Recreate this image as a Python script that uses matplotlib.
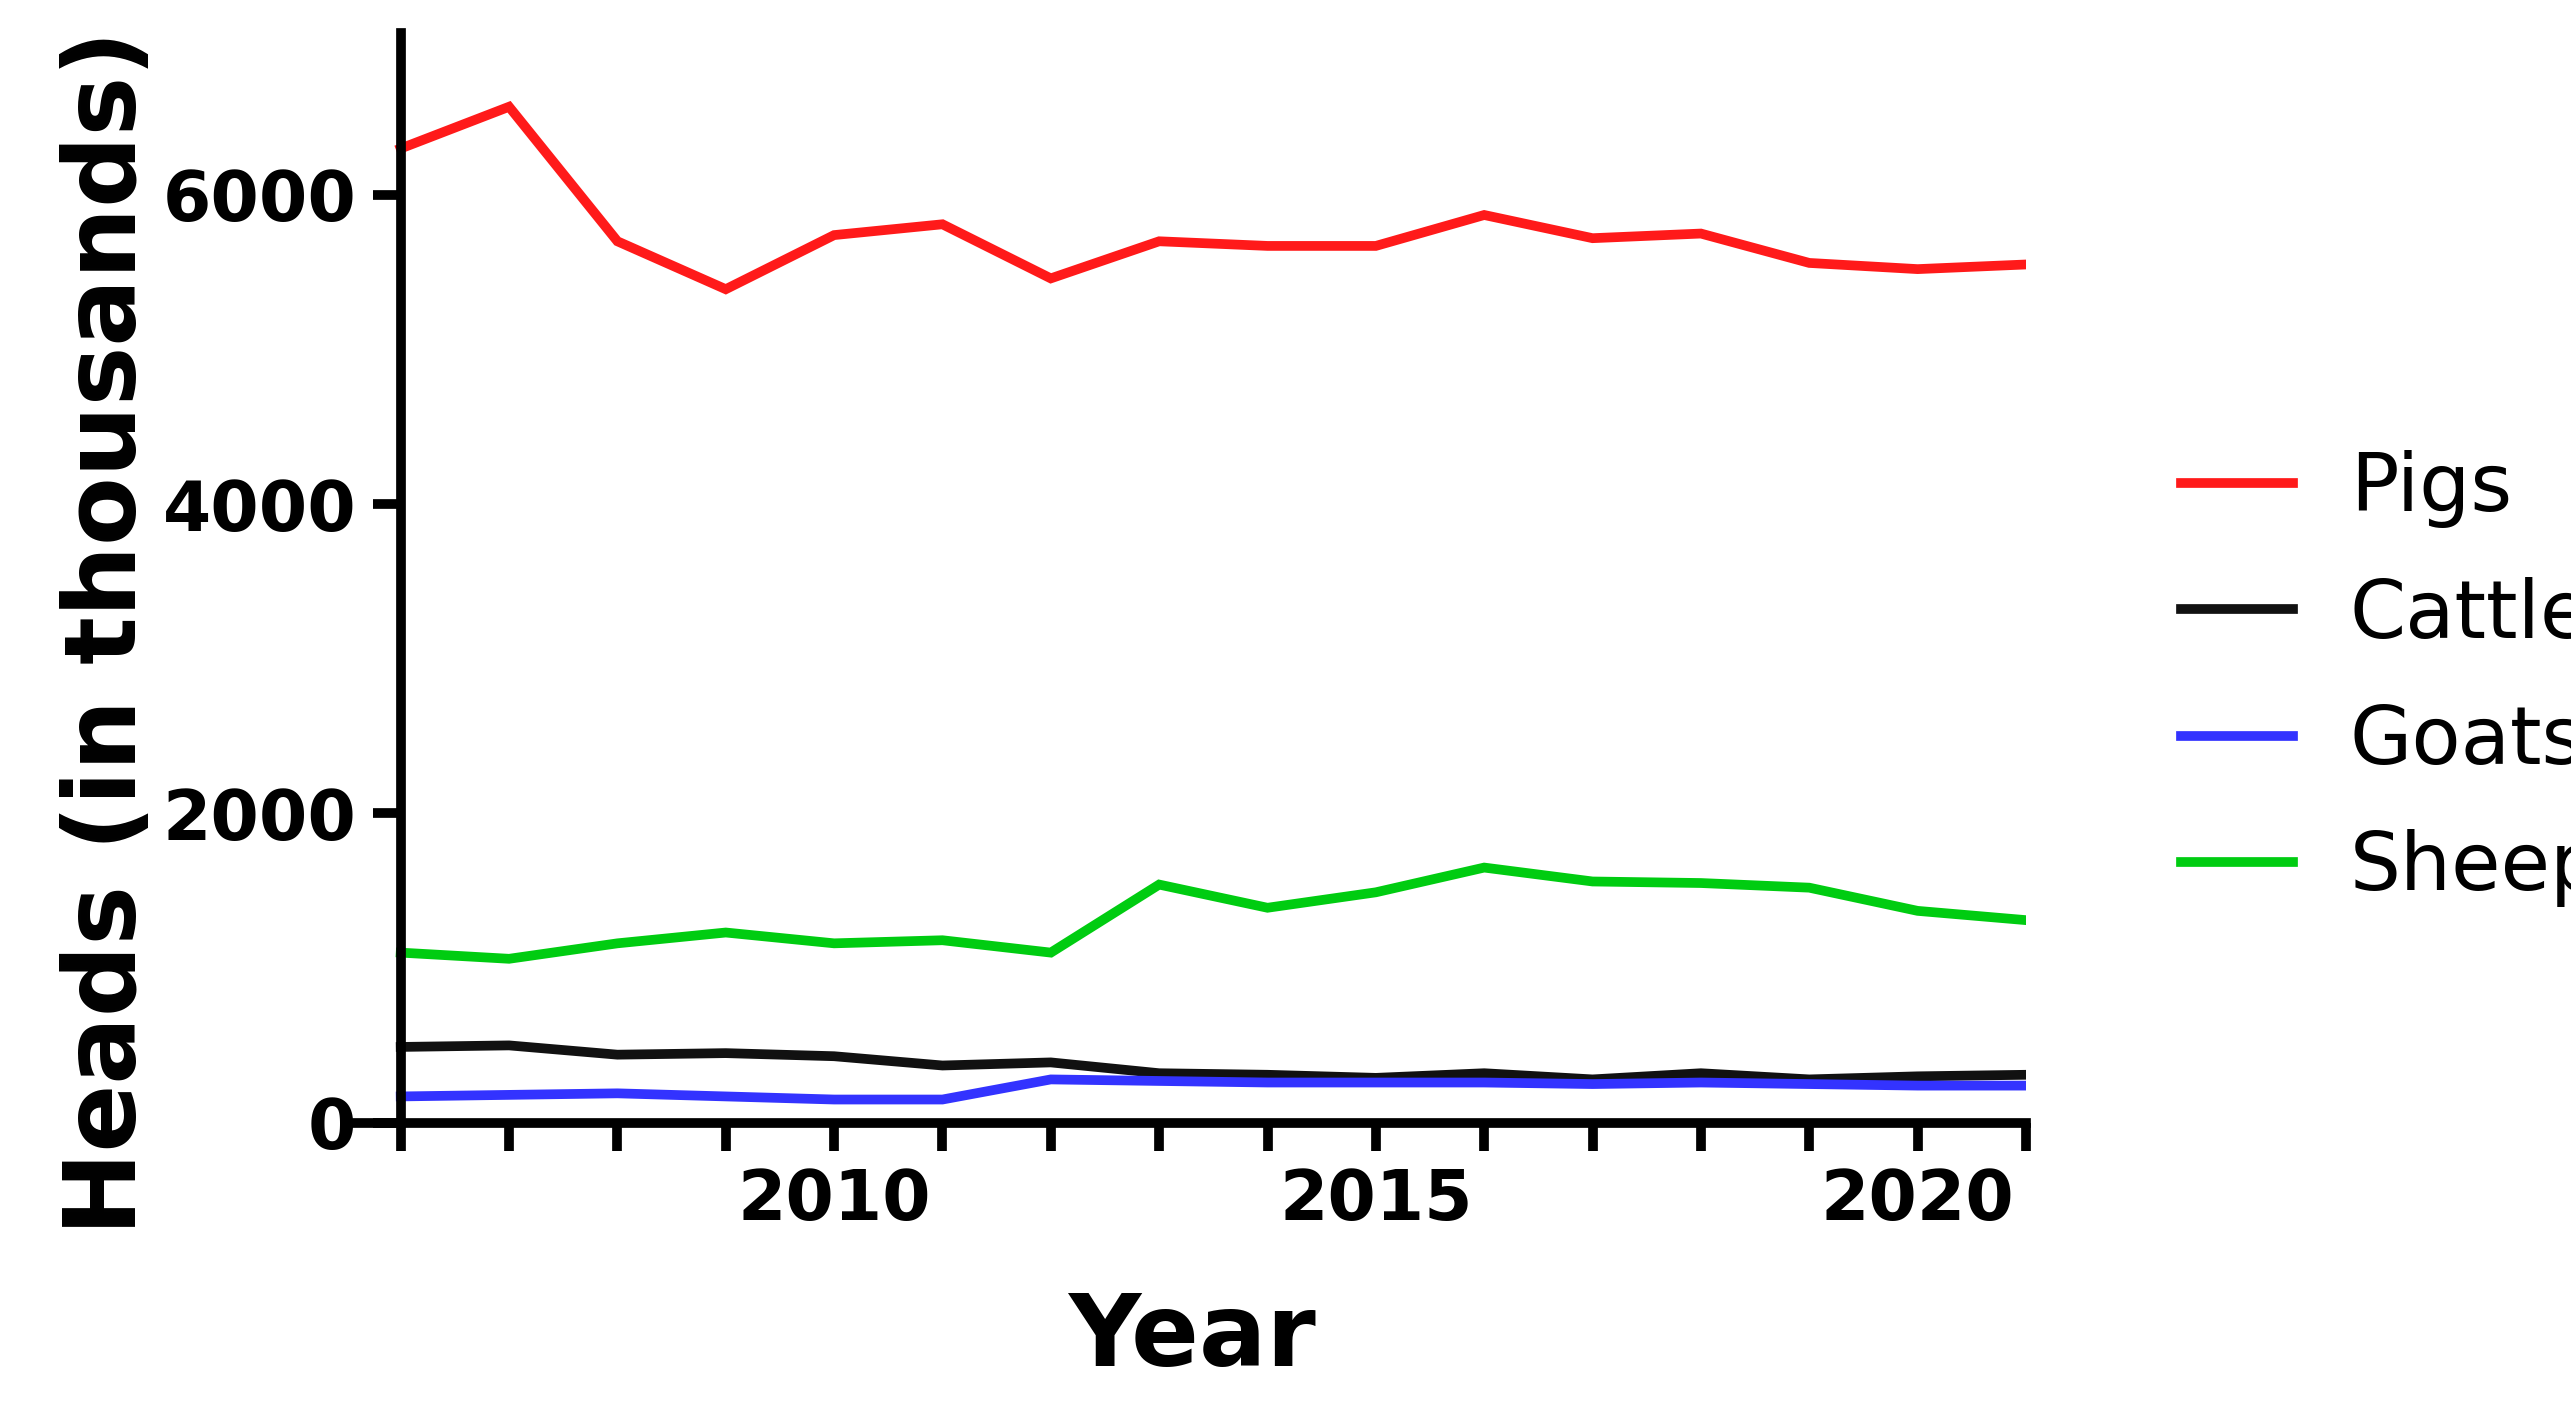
import matplotlib.pyplot as plt
from matplotlib.ticker import MultipleLocator

years = list(range(2006, 2022))
pigs = [6300, 6570, 5700, 5390, 5740, 5810, 5460, 5700, 5670, 5670, 5870, 5720, 5750, 5560, 5520, 5550]
cattle = [490, 500, 440, 450, 430, 370, 390, 320, 310, 290, 320, 280, 320, 280, 300, 310]
goats = [170, 180, 190, 170, 150, 150, 280, 270, 260, 260, 260, 250, 260, 250, 240, 240]
sheep = [1100, 1060, 1160, 1230, 1160, 1180, 1100, 1540, 1390, 1490, 1650, 1560, 1550, 1520, 1370, 1310]

series = [('Pigs', pigs, '#ff1a1a'), ('Cattle', cattle, '#111111'),
          ('Goats', goats, '#3333ff'), ('Sheep', sheep, '#00cc11')]

fig = plt.figure(figsize=(25.71, 14.14), dpi=100)
ax = fig.add_axes([0.139, 0.206, 0.649, 0.771])
for name, vals, color in series:
    ax.plot(years, vals, color=color, lw=7, label=name, solid_joinstyle='miter')

ax.set_xlim(2005.6, 2021)
ax.set_ylim(0, 7050)
ax.spines['left'].set_position(('data', 2006))
for s in ['top', 'right']:
    ax.spines[s].set_visible(False)
for s in ['left', 'bottom']:
    ax.spines[s].set_linewidth(7)
ax.set_xticks([2010, 2015, 2020])
ax.xaxis.set_minor_locator(MultipleLocator(1))
ax.set_yticks([0, 2000, 4000, 6000])
ax.tick_params(width=7, length=20, labelsize=50, pad=12)
ax.tick_params(which='minor', width=7, length=20)
for lbl in ax.get_xticklabels() + ax.get_yticklabels():
    lbl.set_fontweight('bold')
ax.set_xlabel('Year', fontsize=72, fontweight='bold', labelpad=40)
ax.set_ylabel('Heads (in thousands)', fontsize=72, fontweight='bold')
ax.yaxis.set_label_coords(-0.12, 0.45)

fig.legend(loc='center left', bbox_to_anchor=(0.82, 0.52), frameon=False,
           fontsize=58, handlelength=1.4, labelspacing=0.6, handletextpad=0.7)
fig.savefig('out.png', dpi=100)
